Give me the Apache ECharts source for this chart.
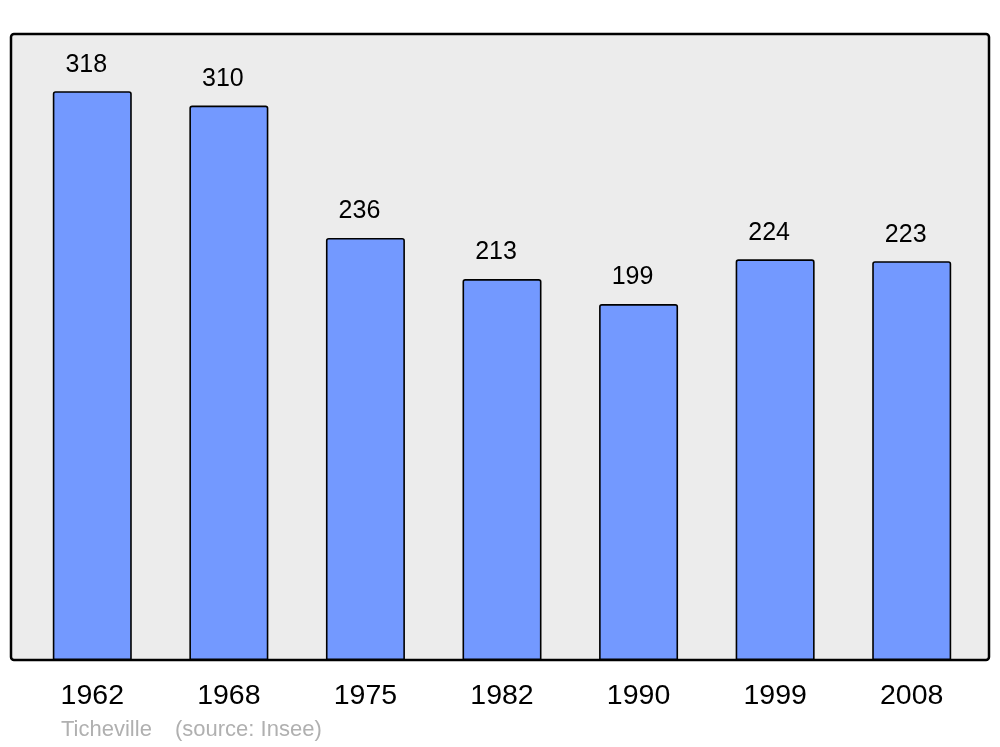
<!DOCTYPE html>
<html>
<head>
<meta charset="utf-8">
<script src="https://cdn.jsdelivr.net/npm/echarts@6/dist/echarts.min.js"></script>
<style>html,body{margin:0;padding:0;background:#fff}#c{width:1000px;height:747px}</style>
</head>
<body>
<div id="c"></div>
<script>
const years = ['1962','1968','1975','1982','1990','1999','2008'];
const population = [318, 310, 236, 213, 199, 224, 223];
const yMax = 350;

const chart = echarts.init(document.getElementById('c'), null, {renderer: 'canvas'});
chart.setOption({
  animation: false,
  textStyle: {fontFamily: 'Liberation Sans, Arial, sans-serif'},
  graphic: [
    {type: 'rect', z: -10, shape: {x: 11, y: 34, width: 978, height: 626, r: 3},
     style: {fill: '#ececec', stroke: '#000', lineWidth: 2.5}},
    {type: 'text', left: 61, top: 719, z: 10,
     style: {text: 'Ticheville', fill: '#b0b0b0', font: '22px "Liberation Sans", Arial, sans-serif'}},
    {type: 'text', left: 175, top: 719, z: 10,
     style: {text: '(source: Insee)', fill: '#b0b0b0', font: '22px "Liberation Sans", Arial, sans-serif'}}
  ],
  grid: {left: 24, right: 20, top: 34, bottom: 87, containLabel: false},
  xAxis: {
    type: 'category', data: years,
    axisLine: {show: false}, axisTick: {show: false},
    axisLabel: {color: '#000', fontSize: 28.5, margin: 22}
  },
  yAxis: {
    type: 'value', min: 0, max: yMax,
    show: false, splitLine: {show: false}
  },
  series: [{
    type: 'bar', data: population, barWidth: 79,
    itemStyle: {color: '#7399ff', borderColor: '#000', borderWidth: 1.6, borderRadius: [2, 2, 0, 0]},
    label: {show: true, position: 'top', distance: 14, offset: [-6, 0], color: '#000', fontSize: 25}
  }]
});
</script>
</body>
</html>
